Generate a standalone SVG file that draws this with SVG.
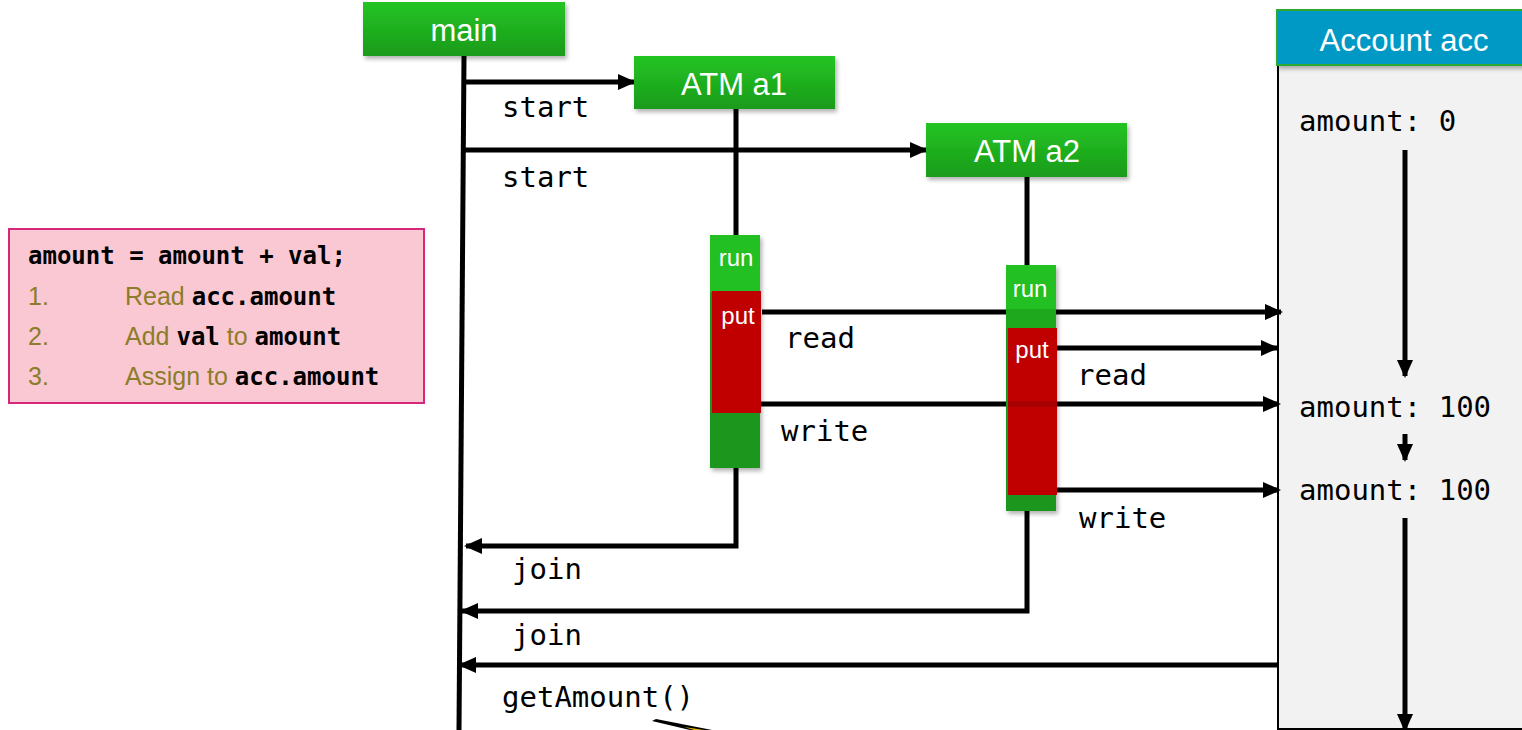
<svg xmlns="http://www.w3.org/2000/svg" width="1522" height="730" viewBox="0 0 1522 730">
  <style>
    .lbl { font-family: "DejaVu Sans Mono", "Liberation Mono", monospace; font-size: 29px; fill: #000; }
    .box-t { font-family: "Liberation Sans", Arial, sans-serif; font-size: 31px; fill: #fff; text-anchor: middle; }
    .seg-t { font-family: "Liberation Sans", Arial, sans-serif; font-size: 24px; fill: #fff; text-anchor: middle; }
    .wire { stroke: #000; stroke-width: 5; fill: none; }
    .code { font-family: "DejaVu Sans Mono", "Liberation Mono", monospace; font-weight: bold; font-size: 24px; fill: #000; }
    .step { font-family: "Liberation Sans", Arial, sans-serif; font-size: 25px; fill: #8b7d2a; }
    .cross { fill: #000; opacity: 0.12; }
  </style>
  <defs>
    <linearGradient id="greenGrad" x1="0" y1="0" x2="0" y2="1">
      <stop offset="0" stop-color="#24c424"/>
      <stop offset="1" stop-color="#1a9b1a"/>
    </linearGradient>
    <filter id="shadow" x="-10%" y="-10%" width="130%" height="140%">
      <feDropShadow dx="2" dy="3" stdDeviation="2" flood-color="#000" flood-opacity="0.3"/>
    </filter>
    <marker id="arrow" markerUnits="userSpaceOnUse" markerWidth="18" markerHeight="16" refX="16" refY="8" orient="auto">
      <path d="M0,0 L18,8 L0,16 Z" fill="#000"/>
    </marker>
  </defs>

  <rect width="1522" height="730" fill="#fff"/>

  <!-- shared object -->
  <g id="account">
    <rect x="1278" y="64" width="250" height="665" fill="#f2f2f2" stroke="#000" stroke-width="2"/>
    <rect x="1277" y="10" width="250" height="55" fill="#0099c6" stroke="#2ea82e" stroke-width="2" filter="url(#shadow)"/>
    <text class="box-t" x="1404" y="51">Account acc</text>
    <text class="lbl" x="1299" y="131">amount: 0</text>
    <text class="lbl" x="1299" y="417">amount: 100</text>
    <text class="lbl" x="1299" y="500">amount: 100</text>
    <line class="wire" x1="1405" y1="150" x2="1405" y2="376" marker-end="url(#arrow)"/>
    <line class="wire" x1="1405" y1="434" x2="1405" y2="460" marker-end="url(#arrow)"/>
    <line class="wire" x1="1405" y1="518" x2="1405" y2="730" marker-end="url(#arrow)"/>
  </g>

  <!-- lifelines and messages -->
  <g id="connectors">
    <line class="wire" x1="464" y1="56" x2="459" y2="730"/>
    <line class="wire" x1="736" y1="109" x2="736" y2="236"/>
    <line class="wire" x1="1027" y1="177" x2="1027" y2="266"/>
    <line class="wire" x1="464" y1="82" x2="634" y2="82" marker-end="url(#arrow)"/>
    <line class="wire" x1="464" y1="150" x2="926" y2="150" marker-end="url(#arrow)"/>
    <line class="wire" x1="762" y1="312" x2="1281" y2="312" marker-end="url(#arrow)"/>
    <line class="wire" x1="760" y1="404" x2="1279" y2="404" marker-end="url(#arrow)"/>
    <line class="wire" x1="1057" y1="348" x2="1277" y2="348" marker-end="url(#arrow)"/>
    <line class="wire" x1="1057" y1="490" x2="1279" y2="490" marker-end="url(#arrow)"/>
    <polyline class="wire" points="736,468 736,546 466,546" marker-end="url(#arrow)"/>
    <polyline class="wire" points="1027,511 1027,611 462,611" marker-end="url(#arrow)"/>
    <line class="wire" x1="1278" y1="665" x2="460" y2="665" marker-end="url(#arrow)"/>
    <text class="lbl" x="502" y="117">start</text>
    <text class="lbl" x="502" y="187">start</text>
    <text class="lbl" x="785" y="348">read</text>
    <text class="lbl" x="781" y="441">write</text>
    <text class="lbl" x="1077" y="385">read</text>
    <text class="lbl" x="1079" y="528">write</text>
    <text class="lbl" x="512" y="579">join</text>
    <text class="lbl" x="512" y="645">join</text>
    <text class="lbl" x="502" y="707">getAmount()</text>
  </g>

  <!-- thread boxes -->
  <g id="main">
    <rect x="363" y="2" width="202" height="54" fill="url(#greenGrad)" filter="url(#shadow)"/>
    <text class="box-t" x="464" y="41">main</text>
  </g>
  <g id="atm-a1">
    <rect x="634" y="56" width="201" height="53" fill="url(#greenGrad)" filter="url(#shadow)"/>
    <text class="box-t" x="734" y="95">ATM a1</text>
  </g>
  <g id="atm-a2">
    <rect x="926" y="123" width="201" height="54" fill="url(#greenGrad)" filter="url(#shadow)"/>
    <text class="box-t" x="1027" y="162">ATM a2</text>
  </g>

  <!-- activation of a1 -->
  <g id="run-a1">
    <rect x="710" y="235" width="50" height="233" fill="#1a961a" filter="url(#shadow)"/>
    <rect x="710" y="235" width="50" height="57" fill="#22c022"/>
    <rect x="712" y="291" width="49" height="122" fill="#c00000"/>
    <text class="seg-t" x="736" y="266">run</text>
    <text class="seg-t" x="738" y="324">put</text>
  </g>

  <!-- activation of a2; faint bands where a1's messages pass behind it -->
  <g id="run-a2">
    <rect x="1006" y="265" width="50" height="246" fill="#1a961a" filter="url(#shadow)"/>
    <rect x="1006" y="265" width="50" height="63" fill="#22c022"/>
    <rect x="1008" y="328" width="49" height="167" fill="#c00000"/>
    <rect class="cross" x="1006" y="309" width="50" height="19"/>
    <rect class="cross" x="1008" y="401" width="49" height="6"/>
    <text class="seg-t" x="1030" y="297">run</text>
    <text class="seg-t" x="1032" y="358">put</text>
  </g>

  <!-- note with the statement steps -->
  <g id="note">
    <rect x="9" y="229" width="415" height="174" fill="#fac8d2" stroke="#d6287a" stroke-width="2"/>
    <text class="code" x="28" y="264">amount = amount + val;</text>
    <text class="step" x="28" y="305">1.</text>
    <text x="125" y="305"><tspan class="step">Read </tspan><tspan class="code">acc.amount</tspan></text>
    <text class="step" x="28" y="345">2.</text>
    <text x="125" y="345"><tspan class="step">Add </tspan><tspan class="code">val</tspan><tspan class="step"> to </tspan><tspan class="code">amount</tspan></text>
    <text class="step" x="28" y="385">3.</text>
    <text x="125" y="385"><tspan class="step">Assign to </tspan><tspan class="code">acc.amount</tspan></text>
  </g>

  <!-- pen tip entering at the bottom edge -->
  <g id="pen">
    <polygon points="652,721 656,719 712,730 690,730" fill="#000"/>
    <polygon points="684,727 704,730 694,730" fill="#f0c000"/>
  </g>
</svg>
